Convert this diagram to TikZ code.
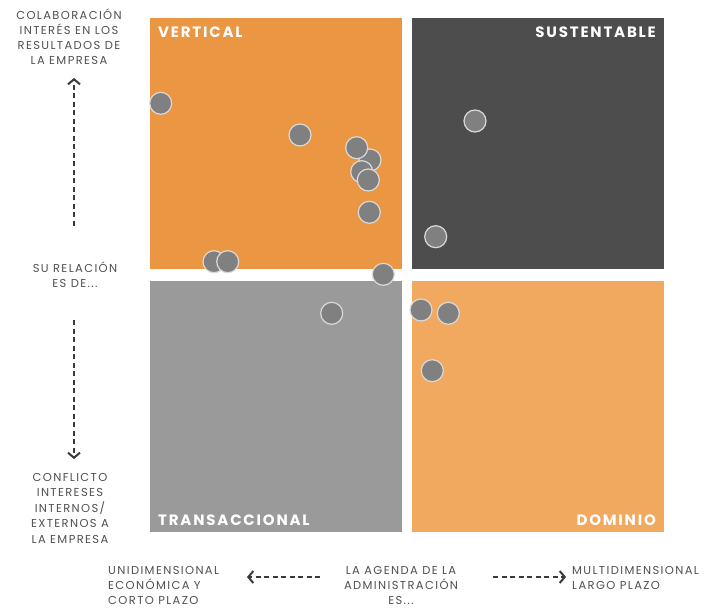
\documentclass[tikz,border=0pt]{standalone}
\usepackage{fontspec}
\setmainfont{Poppins}
\usetikzlibrary{arrows.meta}

\definecolor{vertorange}{HTML}{EA9642}
\definecolor{sustgray}{HTML}{4D4D4D}
\definecolor{transgray}{HTML}{9A9A9A}
\definecolor{domorange}{HTML}{F0A95F}
\definecolor{dotfill}{HTML}{808080}
\definecolor{dotrim}{HTML}{DADADA}
\definecolor{axistext}{HTML}{505050}
\definecolor{axisline}{HTML}{3A3A3A}

\begin{document}
\begin{tikzpicture}[
    x=1pt, y=-1pt,
    quad/.style={rectangle, anchor=north west, inner sep=0pt,
                 minimum width=252pt, minimum height=251pt},
    quadlabel/.style={text=white, inner sep=0pt,
                      font=\fontsize{15}{17}\selectfont\bfseries\addfontfeature{LetterSpace=12}},
    axislabel/.style={text=axistext, align=center, inner sep=1pt,
                      font=\fontsize{11.5}{15}\selectfont\addfontfeature{LetterSpace=12}},
    axis/.style={draw=axisline, line width=2pt, dash pattern=on 5pt off 3.5pt,
                 -{Straight Barb[length=5pt, width=12pt, line width=2pt]}},
    dot/.style={circle, fill=dotfill, draw=dotrim, line width=1.2pt,
                minimum size=22pt, inner sep=0pt}
]
\useasboundingbox (0,0) rectangle (711,609);

% the four quadrants
\node[quad, fill=vertorange] (vert) at (150,18) {};
\node[quad, fill=sustgray]   (sust) at (412,18) {};
\node[quad, fill=transgray]  (trans) at (150,281) {};
\node[quad, fill=domorange]  (dom) at (412,281) {};

\node[quadlabel, anchor=base west] (vertlbl) at (158,38) {VERTICAL};
\node[quadlabel, anchor=base east] (sustlbl) at (656,38) {SUSTENTABLE};
\node[quadlabel, anchor=base west] (translbl) at (158,525) {TRANSACCIONAL};
\node[quadlabel, anchor=base east] (domlbl) at (656,525) {DOMINIO};

% vertical axis
\node[axislabel, anchor=north] (colab) at (69,8)
    {COLABORACIÓN\\INTERÉS EN LOS\\RESULTADOS DE\\LA EMPRESA};
\node[axislabel, anchor=center] (rel) at (75,275) {SU RELACIÓN\\ES DE...};
\node[axislabel, anchor=north, font=\fontsize{11.5}{15.5}\selectfont\addfontfeature{LetterSpace=12}]
    (confl) at (70,472)
    {CONFLICTO\\INTERESES\\INTERNOS/\\EXTERNOS A\\LA EMPRESA};
\coordinate (upfrom) at (74,226);
\coordinate (upto) at (74,78);
\coordinate (downfrom) at (74,320);
\coordinate (downto) at (74,459);
\draw[axis] (upfrom) -- (upto);
\draw[axis] (downfrom) -- (downto);

% horizontal axis
\node[axislabel, anchor=north west, align=left] (unidim) at (107,565)
    {UNIDIMENSIONAL\\ECONÓMICA Y\\CORTO PLAZO};
\node[axislabel, anchor=north] (agenda) at (401,565)
    {LA AGENDA DE LA\\ADMINISTRACIÓN\\ES...};
\node[axislabel, anchor=north west, align=left] (multidim) at (571,565)
    {MULTIDIMENSIONAL\\LARGO PLAZO};
\coordinate (leftfrom) at (320,577);
\coordinate (leftto) at (247,577);
\coordinate (rightfrom) at (493,577);
\coordinate (rightto) at (566,577);
\draw[axis] (leftfrom) -- (leftto);
\draw[axis] (rightfrom) -- (rightto);

% cases
\foreach \px/\py [count=\i] in {160.7/103.3, 300/135, 370/160, 356.7/147.7,
        361.7/171.7, 368.3/180, 369.3/212.3, 214/261.7, 227.7/261.7,
        383.3/274.3, 475/121, 435.7/236.7, 331.7/313.3, 421/310,
        448.3/313.3, 432.3/370.7}
    \node[dot] (case\i) at (\px,\py) {};
\end{tikzpicture}
\end{document}
